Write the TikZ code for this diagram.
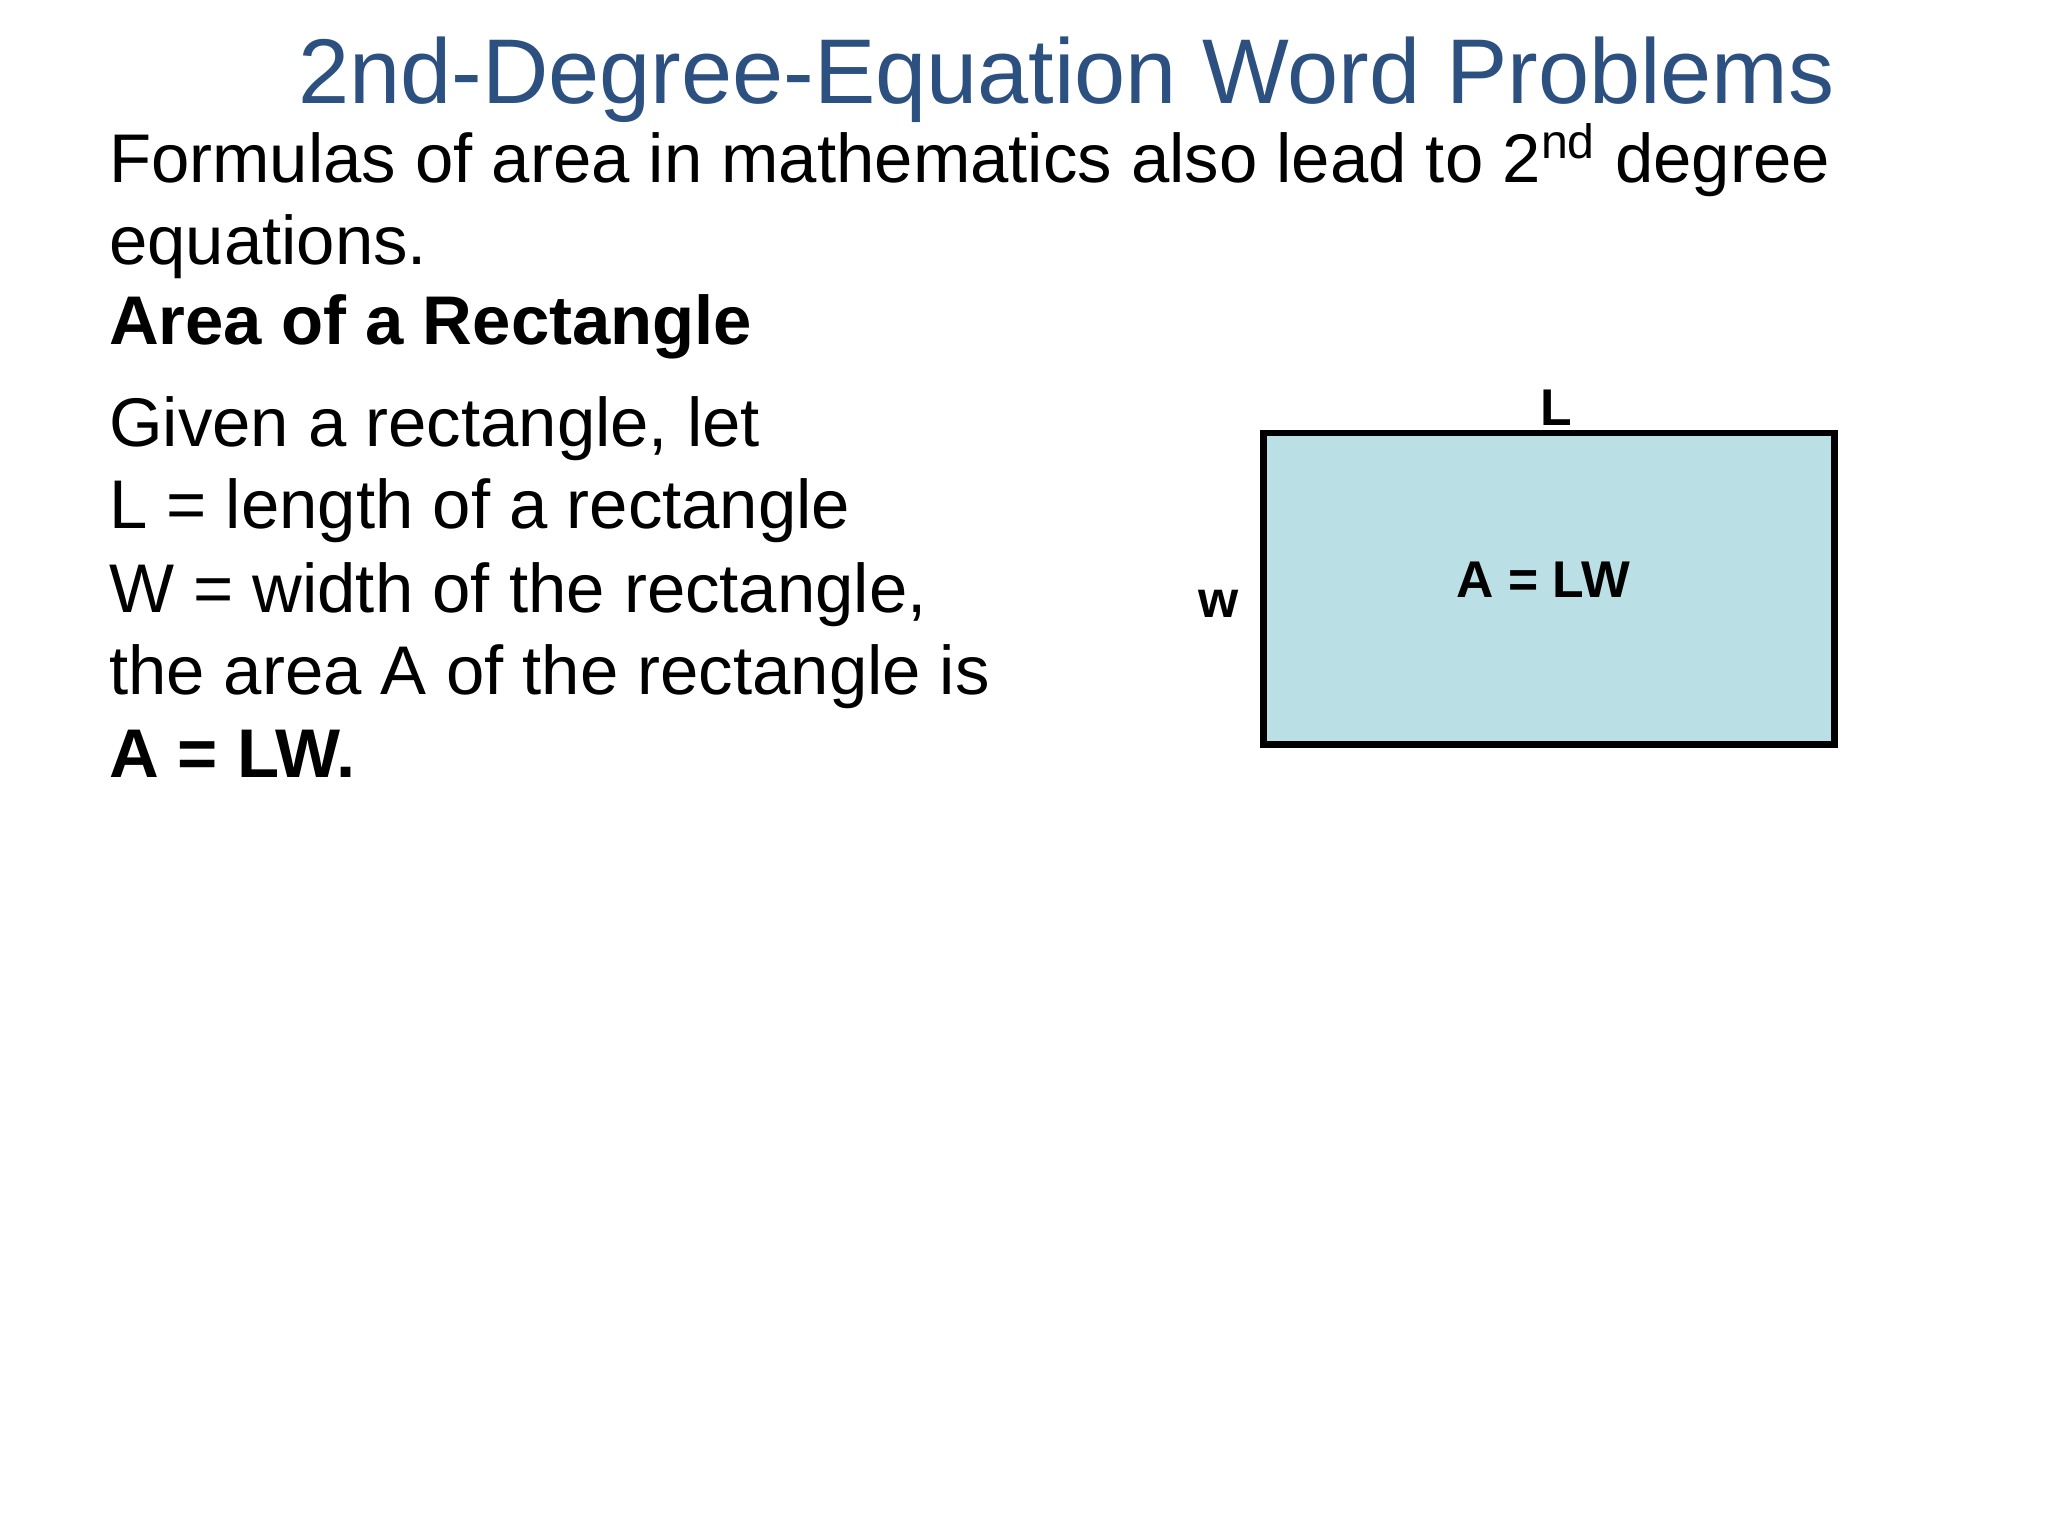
\documentclass[tikz,border=0pt]{standalone}
\usepackage{fontspec}
\setmainfont{Liberation Sans}
\definecolor{titleblue}{HTML}{2C5080}
\definecolor{rectfill}{HTML}{BAE0E5}
\begin{document}
\begin{tikzpicture}[x=0.5pt,y=-0.5pt,
  body/.style={anchor=base west,inner sep=0pt,font=\fontsize{26}{30}\selectfont},
  lbl/.style={inner sep=0pt,font=\fontsize{19.5}{22}\selectfont\bfseries}]
\useasboundingbox (0,0) rectangle (1546,1160);
\node[anchor=base,inner sep=0pt,text=titleblue,font=\fontsize{34.7}{40}\selectfont] (title) at (805,78) {2nd-Degree-Equation Word Problems};
\node[body] (t1) at (82,138) {Formulas of area in mathematics also lead to 2\textsuperscript{nd} degree};
\node[body] (t2) at (82,200) {equations.};
\node[body,font=\fontsize{26}{30}\selectfont\bfseries] (t3) at (82,260) {Area of a Rectangle};
\node[body] (t4) at (82,337) {Given a rectangle, let};
\node[body] (t5) at (82,399) {L = length of a rectangle};
\node[body] (t6) at (82,462) {W = width of the rectangle,};
\node[body] (t7) at (82,524) {the area A of the rectangle is};
\node[body,font=\fontsize{26}{30}\selectfont\bfseries] (t8) at (82,587) {A = LW.};
\draw[line width=2.5pt,fill=rectfill] (954,327) rectangle (1385,562);
\node[lbl] (L) at (1175,308) {L};
\node[lbl] (w) at (920,456) {w};
\node[lbl] (A) at (1165,438) {A = LW};
\end{tikzpicture}
\end{document}
